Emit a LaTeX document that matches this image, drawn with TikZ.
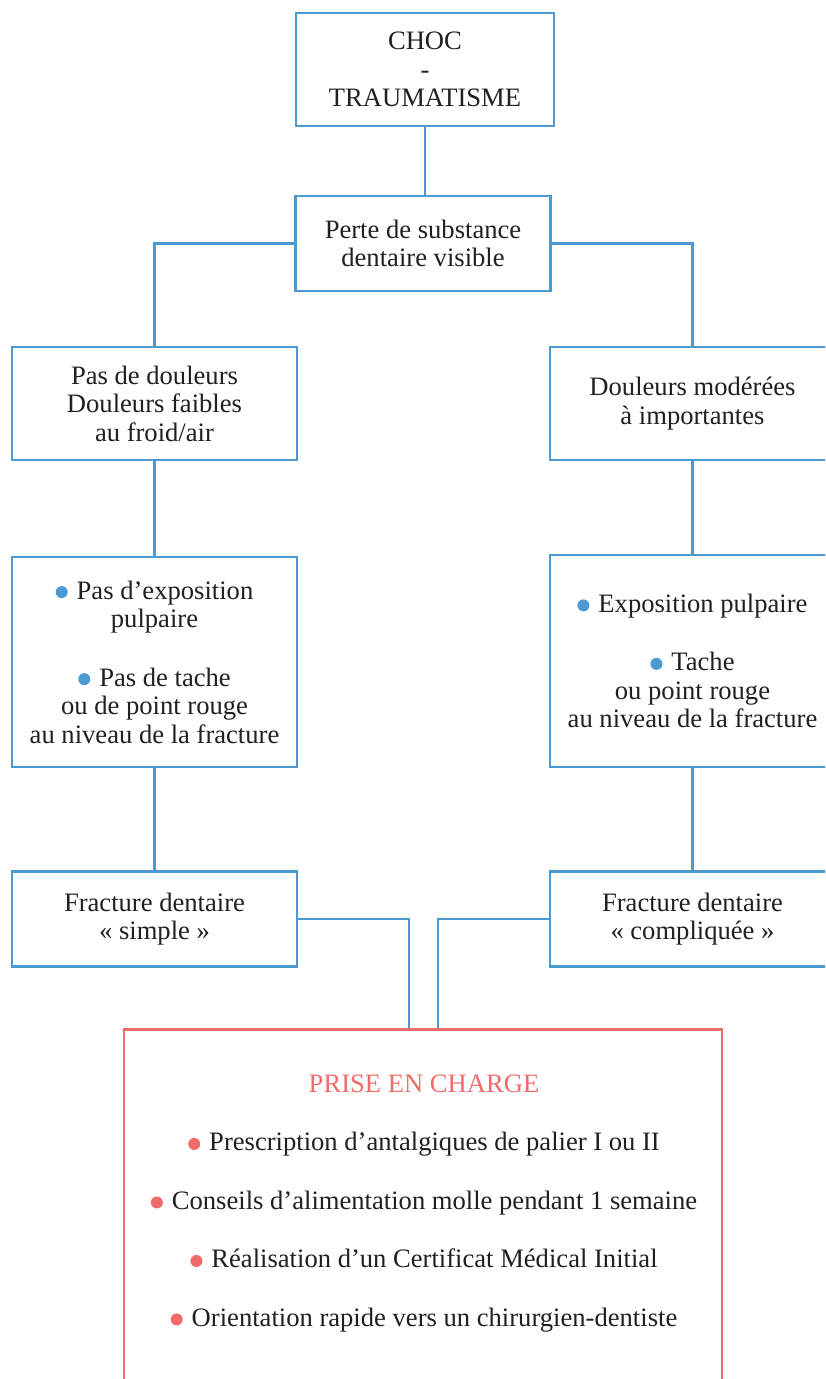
\documentclass[tikz,border=0pt]{standalone}
\usepackage{fontspec}
\setmainfont{Liberation Serif}
\definecolor{boxblue}{HTML}{4C9AD2}
\definecolor{boxred}{HTML}{F26B6B}
\definecolor{ink}{HTML}{231F20}
\newcommand\bdot[1]{\textcolor{#1}{\raisebox{1pt}{\tikz[x=1cm,y=1cm]\fill (0,0) circle[radius=6pt];}}\hspace{9pt}}
\tikzset{
  bluebox/.style={draw=boxblue, line width=2.6pt, text=ink, align=center,
    font=\fontsize{26.6}{28.5}\selectfont, inner sep=0pt},
  redbox/.style={draw=boxred, line width=2.6pt, inner sep=0pt},
  plaintext/.style={text=ink, align=center, font=\fontsize{26.6}{28.5}\selectfont, inner sep=0pt},
  link/.style={draw=boxblue, line width=2.6pt}
}
\begin{document}
\begin{tikzpicture}[x=1pt,y=-1pt]
\useasboundingbox (0,0) rectangle (825,1379);
\clip (0,0) rectangle (825,1379);
\fill[white] (0,0) rectangle (825,1379);

\node[bluebox, minimum width=258pt, minimum height=113pt] (choc) at (425,69.5) {CHOC\\-\\TRAUMATISME};
\node[bluebox, minimum width=255pt, minimum height=95pt] (perte) at (423,243.5) {Perte de substance\\dentaire visible};

\node[bluebox, minimum width=285pt, minimum height=113pt] (pasdoul) at (154.5,403.5) {Pas de douleurs\\Douleurs faibles\\au froid/air};
\node[bluebox, minimum width=285pt, minimum height=113pt] (doulmod) at (692.5,403.5) {Douleurs modérées\\à importantes};

\node[bluebox, minimum width=285pt, minimum height=210pt] (lbul) at (154.5,662) {\bdot{boxblue}Pas d’exposition\\pulpaire\\[30pt]\bdot{boxblue}Pas de tache\\ou de point rouge\\au niveau de la fracture};
\node[bluebox, minimum width=285pt, minimum height=212pt] (rbul) at (692.5,661) {\bdot{boxblue}Exposition pulpaire\\[30pt]\bdot{boxblue}Tache\\ou point rouge\\au niveau de la fracture};

\node[bluebox, minimum width=285pt, minimum height=95pt] (lfrac) at (154.5,919) {Fracture dentaire\\« simple »};
\node[bluebox, minimum width=285pt, minimum height=95pt] (rfrac) at (692.5,919) {Fracture dentaire\\« compliquée »};

\node[redbox, minimum width=598pt, minimum height=420pt, anchor=north] (prise) at (423,1028) {};
\node[plaintext] (prisetext) at (424,1203.5) {\textcolor{boxred}{PRISE EN CHARGE}\\[30pt]
\bdot{boxred}Prescription d’antalgiques de palier I ou II\\[30pt]
\bdot{boxred}Conseils d’alimentation molle pendant 1 semaine\\[30pt]
\bdot{boxred}Réalisation d’un Certificat Médical Initial\\[30pt]
\bdot{boxred}Orientation rapide vers un chirurgien-dentiste};

\draw[link] (choc.south) -- (choc.south |- perte.north);
\draw[link] (perte.west) -| (pasdoul.north);
\draw[link] (perte.east) -| (doulmod.north);
\draw[link] (pasdoul.south) -- (lbul.north);
\draw[link] (doulmod.south) -- (rbul.north);
\draw[link] (lbul.south) -- (lfrac.north);
\draw[link] (rbul.south) -- (rfrac.north);
\coordinate (inL) at ([xshift=-14pt]prise.north);
\coordinate (inR) at ([xshift=15pt]prise.north);
\draw[link] (lfrac.east) -| (inL);
\draw[link] (rfrac.west) -| (inR);
\end{tikzpicture}
\end{document}
